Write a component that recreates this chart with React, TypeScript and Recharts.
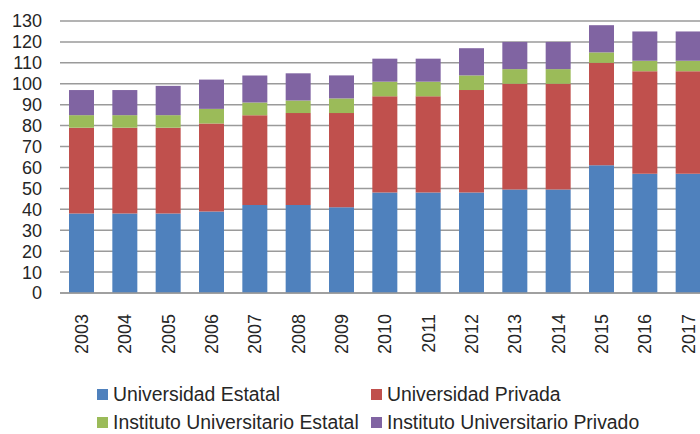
import { BarChart, Bar, XAxis, YAxis, CartesianGrid } from 'recharts';

const years = ['2003', '2004', '2005', '2006', '2007', '2008', '2009', '2010', '2011', '2012', '2013', '2014', '2015', '2016', '2017'];
const univEstatal = [38, 38, 38, 39, 42, 42, 41, 48, 48, 48, 49.5, 49.5, 61, 57, 57];
const univPrivada = [41, 41, 41, 42, 43, 44, 45, 46, 46, 49, 50.5, 50.5, 49, 49, 49];
const instEstatal = [6, 6, 6, 7, 6, 6, 7, 7, 7, 7, 7, 7, 5, 5, 5];
const instPrivado = [12, 12, 14, 14, 13, 13, 11, 11, 11, 13, 13, 13, 13, 14, 14];
const yTicks = [0, 10, 20, 30, 40, 50, 60, 70, 80, 90, 100, 110, 120, 130];

const series = [
  { key: 'ue', name: 'Universidad Estatal', color: '#4f81bd' },
  { key: 'up', name: 'Universidad Privada', color: '#c0504d' },
  { key: 'ie', name: 'Instituto Universitario Estatal', color: '#9bbb59' },
  { key: 'ip', name: 'Instituto Universitario Privado', color: '#8064a2' },
];

const data = years.map((year, i) => ({
  year,
  ue: univEstatal[i],
  up: univPrivada[i],
  ie: instEstatal[i],
  ip: instPrivado[i],
}));

const FONT = '"Liberation Sans", Arial, sans-serif';

// rotated year labels, reading bottom to top
const YearTick = ({ x, y, payload }: any) => (
  <text
    transform={`translate(${x},${y + 13}) rotate(-90)`}
    textAnchor="end"
    dy="0.36em"
    fontSize={18}
    fontFamily={FONT}
    fill="#262626"
  >
    {payload.value}
  </text>
);

const ValueTick = ({ y, payload }: any) => (
  <text x={42} y={y} textAnchor="end" dy="0.36em" fontSize={18} fontFamily={FONT} fill="#262626">
    {payload.value}
  </text>
);

function LegendItem({ name, color, left, top }: any) {
  return (
    <div style={{ position: 'absolute', left, top, height: 20, display: 'flex', alignItems: 'center', whiteSpace: 'nowrap' }}>
      <span style={{ width: 11, height: 11, backgroundColor: color, marginRight: 5, display: 'inline-block' }} />
      <span style={{ fontSize: 19.4, lineHeight: '20px', fontFamily: FONT, color: '#262626' }}>{name}</span>
    </div>
  );
}

export default function App() {
  return (
    <div style={{ position: 'absolute', left: 0, top: 0, width: 700, height: 434, overflow: 'hidden', background: '#fff' }}>
      <BarChart width={720} height={434} data={data} margin={{ top: 21, right: 10, left: 0, bottom: 0 }}>
        <CartesianGrid vertical={false} stroke="#9a9a9a" strokeWidth={1.5} />
        <XAxis
          dataKey="year"
          height={141}
          tick={<YearTick />}
          tickLine={false}
          axisLine={{ stroke: '#9a9a9a', strokeWidth: 1.5 }}
          interval={0}
        />
        <YAxis
          width={60}
          domain={[0, 130]}
          ticks={yTicks}
          tick={<ValueTick />}
          tickLine={false}
          axisLine={false}
          interval={0}
        />
        {series.map((s) => (
          <Bar key={s.key} dataKey={s.key} name={s.name} stackId="a" fill={s.color} barSize={25} isAnimationActive={false} />
        ))}
      </BarChart>
      <LegendItem name={series[0].name} color={series[0].color} left={97} top={384} />
      <LegendItem name={series[1].name} color={series[1].color} left={371} top={384} />
      <LegendItem name={series[2].name} color={series[2].color} left={97} top={412} />
      <LegendItem name={series[3].name} color={series[3].color} left={371} top={412} />
    </div>
  );
}
